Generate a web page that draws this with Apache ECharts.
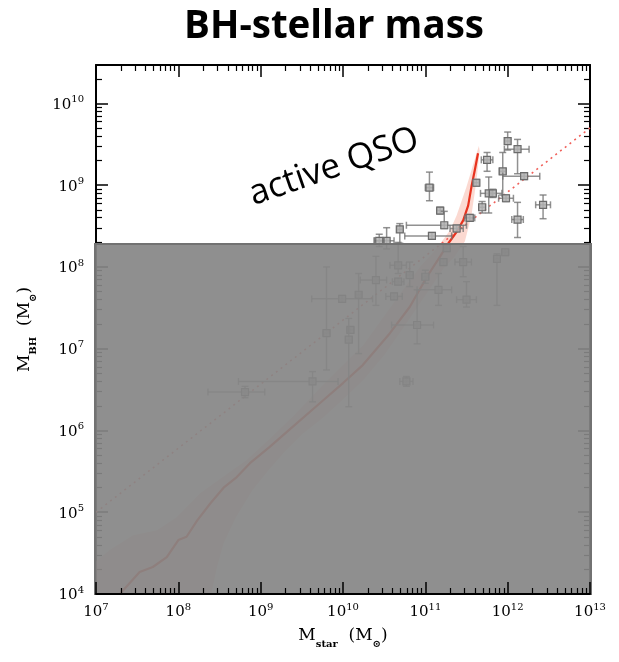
<!DOCTYPE html>
<html>
<head>
<meta charset="utf-8">
<script src="https://cdn.jsdelivr.net/npm/echarts@6/dist/echarts.min.js"></script>
<style>
  html, body { margin: 0; padding: 0; background: #fff; }
  #chart { width: 619px; height: 662px; }
</style>
</head>
<body>
<div id="chart"></div>
<script>
// Observed galaxies: log10 stellar mass and log10 black-hole mass (solar masses),
// with the lower / upper ends of their error bars.
const logMstar   = [11.05, 11.18, 11.23, 11.08, 10.69, 10.53, 10.44, 11.38, 11.54, 11.62, 11.69, 11.75, 11.77, 11.82, 11.94, 12.00, 12.12, 12.20, 11.98, 12.12, 12.43,
                    10.67, 10.40, 10.19, 9.99, 9.80, 10.09, 10.07, 10.67, 10.62, 10.81, 11.00, 11.16, 11.22, 11.46, 11.50, 11.87, 11.97, 10.90, 10.77, 9.63, 8.81, 11.26];
const logMbh     = [8.97, 8.69, 8.51, 8.38, 8.46, 8.32, 8.32, 8.47, 8.60, 9.03, 8.73, 9.31, 8.90, 8.90, 9.17, 9.54, 9.44, 9.11, 8.84, 8.58, 8.76,
                    8.02, 7.84, 7.66, 7.61, 7.19, 7.23, 7.11, 7.82, 7.64, 7.90, 7.88, 7.72, 8.06, 8.06, 7.60, 8.10, 8.18, 7.29, 6.60, 6.60, 6.47, 8.23];
const logMstarLo = [11.00, 11.14, 10.77, 10.75, 10.66, 10.38, 10.38, 11.30, 11.48, 11.59, 11.65, 11.68, 11.67, 11.78, 11.90, 11.97, 11.96, 11.94, 11.89, 12.05, 12.34,
                    10.57, 10.21, 10.16, 9.62, 9.76, 10.05, 10.03, 10.60, 10.52, 10.77, 10.96, 10.90, 11.18, 11.36, 11.38, 11.84, 11.93, 10.59, 10.69, 8.73, 8.36, 11.22];
const logMstarHi = [11.10, 11.22, 11.50, 11.32, 10.72, 10.62, 10.50, 11.46, 11.60, 11.65, 11.73, 11.82, 11.93, 11.86, 11.98, 12.03, 12.26, 12.39, 12.07, 12.19, 12.52,
                    10.77, 10.53, 10.22, 10.36, 9.84, 10.13, 10.11, 10.74, 10.72, 10.85, 11.04, 11.32, 11.26, 11.56, 11.62, 11.90, 12.01, 11.10, 10.85, 9.94, 9.05, 11.30];
const logMbhLo   = [8.81, 8.65, 8.47, 8.34, 8.29, 8.22, 8.25, 8.43, 8.56, 8.99, 8.66, 9.17, 8.66, 8.85, 8.88, 9.43, 9.14, 9.07, 8.80, 8.36, 8.59,
                    7.92, 7.53, 6.94, 7.57, 6.74, 7.19, 6.29, 7.78, 7.60, 7.76, 7.80, 7.53, 8.02, 7.88, 7.51, 7.53, 8.14, 7.06, 6.54, 6.35, 6.40, 8.19];
const logMbhHi   = [9.16, 8.73, 8.68, 8.42, 8.53, 8.48, 8.40, 8.51, 8.64, 9.07, 8.80, 9.40, 9.10, 8.95, 9.40, 9.65, 9.56, 9.15, 8.88, 8.79, 8.88,
                    8.30, 8.13, 7.92, 7.65, 8.00, 7.27, 7.37, 7.86, 7.68, 8.06, 7.96, 7.92, 8.10, 8.25, 7.82, 8.16, 8.22, 7.72, 6.66, 6.72, 6.54, 8.27];

// Model median relation (solid red)
const curveMstar = [7.29, 7.53, 7.69, 7.86, 8.00, 8.10, 8.23, 8.39, 8.55, 8.71, 8.87, 9.11, 9.36, 9.76, 10.00, 10.24, 10.57, 10.81, 11.02, 11.18, 11.28, 11.38, 11.46, 11.52, 11.56, 11.60, 11.64];
const curveMbh   = [4.00, 4.27, 4.33, 4.45, 4.66, 4.70, 4.90, 5.11, 5.30, 5.43, 5.60, 5.80, 6.02, 6.37, 6.58, 6.80, 7.19, 7.51, 7.88, 8.13, 8.29, 8.43, 8.57, 8.75, 8.98, 9.18, 9.39];

// Model scatter band: upper edge (left to right) and lower edge (right to left)
const bandUpperMstar = [7.00, 7.17, 7.45, 7.74, 7.98, 8.26, 8.54, 8.83, 9.11, 9.40, 9.75, 10.00, 10.25, 10.50, 10.75, 10.95, 11.10, 11.20, 11.30, 11.38, 11.50, 11.58, 11.65];
const bandUpperMbh   = [4.40, 4.54, 4.72, 4.78, 4.94, 5.23, 5.43, 5.64, 5.90, 6.18, 6.55, 6.80, 7.05, 7.40, 7.75, 8.02, 8.18, 8.31, 8.45, 8.63, 8.98, 9.25, 9.48];
const bandLowerMstar = [11.66, 11.62, 11.56, 11.48, 11.35, 11.22, 11.00, 10.75, 10.50, 10.25, 10.00, 9.75, 9.50, 9.30, 9.10, 8.90, 8.70, 8.55, 8.47, 8.40, 7.00];
const bandLowerMbh   = [9.42, 9.05, 8.63, 8.31, 8.12, 7.98, 7.65, 7.28, 6.92, 6.62, 6.38, 6.15, 5.95, 5.75, 5.52, 5.27, 4.94, 4.62, 4.33, 4.00, 4.00];

// Local scaling relation (dotted)
const relationMstar = [7.0, 13.0];
const relationMbh   = [5.0, 9.7];

// Shaded region below the active-QSO threshold
const shadeMstar = [7.0, 13.0];
const shadeMbh   = [4.0, 8.28];

// Axis ranges (log10 solar masses)
const xRange = [7, 13];
const yRange = [4, 10.47];

// logarithmic minor tick positions (2..9 within each decade)
const minorX = [];
for (let n = xRange[0]; n < xRange[1]; n++) for (let k = 2; k <= 9; k++) minorX.push(n + Math.log10(k));
const minorY = [];
for (let n = yRange[0]; n <= 10; n++) for (let k = 2; k <= 9; k++) {
  const v = n + Math.log10(k);
  if (v < yRange[1]) minorY.push(v);
}

const SERIF = '"DejaVu Serif", "Liberation Serif", serif';

function decadeLabel(v) {
  if (Math.abs(v - Math.round(v)) > 1e-6) return '';
  return '{b|10}{p|' + Math.round(v) + '}';
}
const labelRich = {
  b: { fontFamily: SERIF, fontSize: 15, color: '#000', lineHeight: 18, verticalAlign: 'bottom' },
  p: { fontFamily: SERIF, fontSize: 10, color: '#000', lineHeight: 9, verticalAlign: 'top' }
};
const nameRich = {
  m: { fontFamily: SERIF, fontSize: 17, color: '#000', lineHeight: 22, verticalAlign: 'top' },
  s: { fontFamily: SERIF, fontSize: 10, fontWeight: 'bold', color: '#000', lineHeight: 8, verticalAlign: 'bottom' }
};

const majorTick = { show: true, inside: true, length: 12, lineStyle: { color: '#000', width: 1.5 } };
const minorTickFor = vals => ({ show: true, inside: true, length: 6, customValues: vals, lineStyle: { color: '#000', width: 1.2 } });
const frameLine = { show: true, lineStyle: { color: '#000', width: 2 } };

function xAxisDef(extra) {
  return Object.assign({ type: 'value', min: xRange[0], max: xRange[1], interval: 1, splitLine: { show: false },
    axisLabel: { show: false }, axisLine: { show: false } }, extra);
}
function yAxisDef(extra) {
  return Object.assign({ type: 'value', min: yRange[0], max: yRange[1], interval: 1, splitLine: { show: false },
    axisLabel: { show: false }, axisLine: { show: false } }, extra);
}

const pointRows = logMstar.map((x, i) => [x, logMbh[i], logMstarLo[i], logMstarHi[i], logMbhLo[i], logMbhHi[i]]);

const chart = echarts.init(document.getElementById('chart'), null, { renderer: 'canvas' });

chart.setOption({
  animation: false,
  backgroundColor: '#fff',
  grid: { left: 96, right: 29, top: 65, bottom: 68, containLabel: false },
  graphic: [
    { type: 'text', x: 334, y: 27, z: 100,
      style: { text: 'BH-stellar mass', font: 'bold 38.5px "Open Sans", "Liberation Sans", sans-serif', fill: '#000', align: 'center', verticalAlign: 'middle' } },
    { type: 'text', x: 334, y: 167, rotation: 19 * Math.PI / 180, z: 100,
      style: { text: 'active QSO', font: '35px "Open Sans", "Liberation Sans", sans-serif', fill: '#000', align: 'center', verticalAlign: 'middle' } }
  ],
  xAxis: [
    xAxisDef({ position: 'bottom', z: 20, axisLine: frameLine, axisTick: majorTick,
      axisLabel: { show: true, margin: 8, formatter: decadeLabel, rich: labelRich },
      name: '{m|M}{s|star}{m|  (M}{s|⊙}{m|)}', nameLocation: 'middle', nameGap: 33,
      nameTextStyle: { rich: nameRich } }),
    xAxisDef({ position: 'top', axisLine: frameLine, axisTick: majorTick }),
    xAxisDef({ position: 'bottom', z: 20, axisTick: minorTickFor(minorX) }),
    xAxisDef({ position: 'top', axisTick: minorTickFor(minorX) })
  ],
  yAxis: [
    yAxisDef({ position: 'left', axisLine: frameLine, axisTick: majorTick,
      axisLabel: { show: true, margin: 12, formatter: decadeLabel, rich: labelRich, showMaxLabel: false },
      name: '{m|M}{s|BH}{m|  (M}{s|⊙}{m|)}', nameLocation: 'middle', nameGap: 58,
      nameTextStyle: { rich: nameRich } }),
    yAxisDef({ position: 'right', axisLine: frameLine, axisTick: majorTick }),
    yAxisDef({ position: 'left', axisTick: minorTickFor(minorY) }),
    yAxisDef({ position: 'right', axisTick: minorTickFor(minorY) })
  ],
  series: [
    {
      // scatter band of the model relation
      type: 'custom', name: 'band', z: 2, silent: true,
      data: [[bandUpperMstar[0], bandUpperMbh[0]]],
      encode: { x: 0, y: 1 },
      renderItem: function (params, api) {
        const pts = [];
        bandUpperMstar.forEach((x, i) => pts.push(api.coord([x, bandUpperMbh[i]])));
        bandLowerMstar.forEach((x, i) => pts.push(api.coord([x, bandLowerMbh[i]])));
        return { type: 'polygon', shape: { points: pts },
          style: { fill: 'rgba(244, 140, 115, 0.33)', stroke: null } };
      }
    },
    {
      type: 'line', name: 'relation', z: 3, silent: true, showSymbol: false,
      data: relationMstar.map((x, i) => [x, relationMbh[i]]),
      lineStyle: { color: '#f0605a', width: 1.6, type: [2, 4] }
    },
    {
      type: 'line', name: 'median', z: 4, silent: true, showSymbol: false,
      data: curveMstar.map((x, i) => [x, curveMbh[i]]),
      lineStyle: { color: '#e8321e', width: 2.2 }
    },
    {
      // galaxies with error bars
      type: 'custom', name: 'galaxies', z: 5, silent: true,
      data: pointRows,
      encode: { x: 0, y: 1 },
      renderItem: function (params, api) {
        const c  = api.coord([api.value(0), api.value(1)]);
        const xl = api.coord([api.value(2), api.value(1)]);
        const xh = api.coord([api.value(3), api.value(1)]);
        const yl = api.coord([api.value(0), api.value(4)]);
        const yh = api.coord([api.value(0), api.value(5)]);
        const cap = 3.5, hs = 3.5;
        const st = { stroke: 'rgba(118,118,118,0.8)', lineWidth: 1.5, fill: null };
        return { type: 'group', children: [
          { type: 'line', shape: { x1: xl[0], y1: c[1], x2: xh[0], y2: c[1] }, style: st },
          { type: 'line', shape: { x1: xl[0], y1: c[1] - cap, x2: xl[0], y2: c[1] + cap }, style: st },
          { type: 'line', shape: { x1: xh[0], y1: c[1] - cap, x2: xh[0], y2: c[1] + cap }, style: st },
          { type: 'line', shape: { x1: c[0], y1: yl[1], x2: c[0], y2: yh[1] }, style: st },
          { type: 'line', shape: { x1: c[0] - cap, y1: yl[1], x2: c[0] + cap, y2: yl[1] }, style: st },
          { type: 'line', shape: { x1: c[0] - cap, y1: yh[1], x2: c[0] + cap, y2: yh[1] }, style: st },
          { type: 'rect', shape: { x: c[0] - hs, y: c[1] - hs, width: 2 * hs, height: 2 * hs },
            style: { fill: 'rgba(178,178,178,0.85)', stroke: '#6b6b6b', lineWidth: 1.2 } }
        ] };
      }
    },
    {
      // grey shade over the non-QSO regime
      type: 'custom', name: 'shade', z: 10, silent: true,
      data: [[shadeMstar[0], shadeMbh[0], shadeMstar[1], shadeMbh[1]]],
      encode: { x: 0, y: 1 },
      renderItem: function (params, api) {
        const p0 = api.coord([api.value(0), api.value(3)]);
        const p1 = api.coord([api.value(2), api.value(1)]);
        return { type: 'rect',
          shape: { x: p0[0] - 1, y: p0[1], width: p1[0] - p0[0] + 2, height: p1[1] - p0[1] },
          style: { fill: 'rgba(134,134,134,0.92)', stroke: '#727272', lineWidth: 2 } };
      }
    }
  ]
});
</script>
</body>
</html>
